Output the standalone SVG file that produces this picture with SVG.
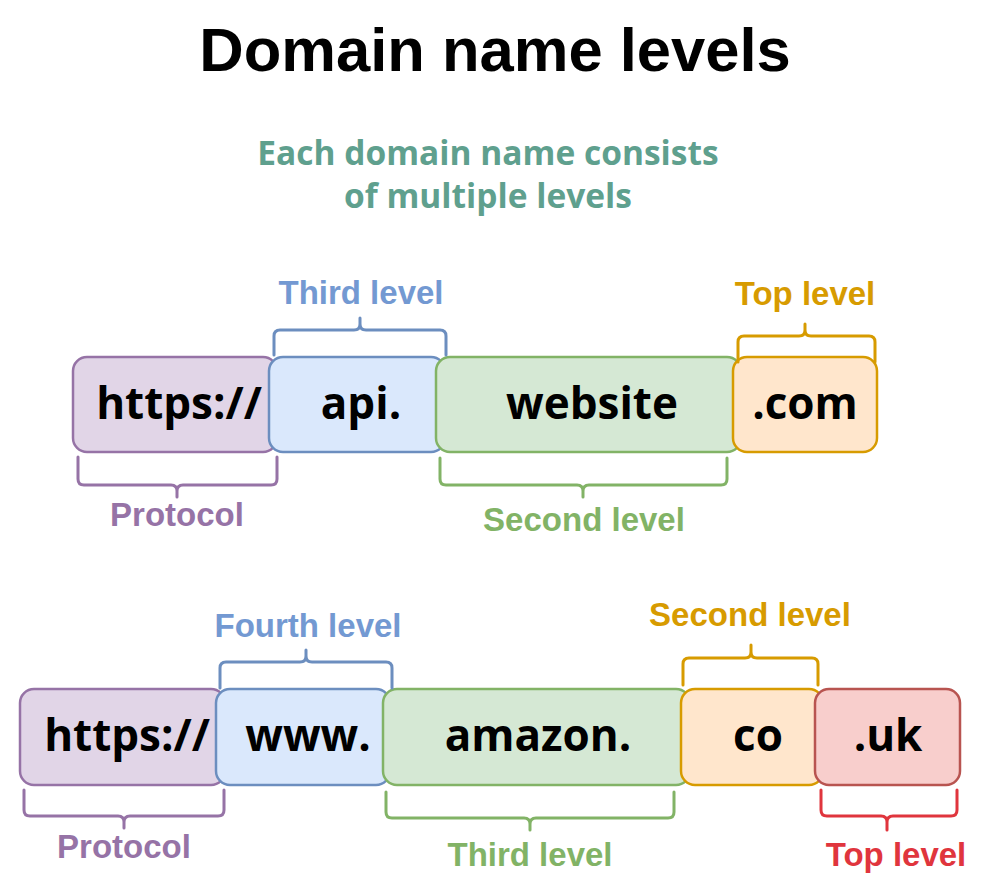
<svg xmlns="http://www.w3.org/2000/svg" width="983" height="887" viewBox="0 0 983 887">
<style>
.title{font-family:"Liberation Sans",Arial,sans-serif;font-weight:bold;font-size:61.5px;fill:#000;text-anchor:middle}
.sub{font-family:"Open Sans","Noto Sans",sans-serif;font-weight:bold;font-size:33.5px;fill:#5FA08E;text-anchor:middle}
.bt{font-family:"Open Sans","Noto Sans",sans-serif;font-weight:bold;font-size:44px;fill:#000;text-anchor:middle}
.lbl{font-family:"Liberation Sans",Arial,sans-serif;font-weight:bold;font-size:33px;text-anchor:middle}
.br{fill:none;stroke-width:3;stroke-linecap:round;stroke-linejoin:round}
.purple rect{fill:#E1D5E7;stroke:#9673A6;stroke-width:2.5}
.blue rect{fill:#DAE8FC;stroke:#6C8EBF;stroke-width:2.5}
.green rect{fill:#D5E8D4;stroke:#82B366;stroke-width:2.5}
.orange rect{fill:#FFE6CC;stroke:#D79B00;stroke-width:2.5}
.red rect{fill:#F8CECC;stroke:#B85450;stroke-width:2.5}
</style>
<text class="title" x="495" y="71">Domain name levels</text>
<text class="sub" x="488" y="165">Each domain name consists</text>
<text class="sub" x="488" y="208">of multiple levels</text>

<g id="r1-protocol" class="purple"><rect x="73" y="357" width="204" height="95" rx="14"/><text class="bt" x="179" y="419">https://</text></g>
<g id="r1-api" class="blue"><rect x="269" y="357" width="176" height="95" rx="14"/><text class="bt" x="361" y="419">api.</text></g>
<g id="r1-website" class="green"><rect x="436" y="357" width="305" height="95" rx="14"/><text class="bt" x="592" y="419">website</text></g>
<g id="r1-com" class="orange"><rect x="733" y="357" width="144" height="95" rx="14"/><text class="bt" x="805" y="419">.com</text></g>

<g id="r2-protocol" class="purple"><rect x="20" y="689" width="205" height="96" rx="14"/><text class="bt" x="127" y="751">https://</text></g>
<g id="r2-www" class="blue"><rect x="216" y="689" width="174" height="96" rx="14"/><text class="bt" x="308" y="751">www.</text></g>
<g id="r2-amazon" class="green"><rect x="383" y="689" width="307" height="96" rx="14"/><text class="bt" x="538" y="751">amazon.</text></g>
<g id="r2-co" class="orange"><rect x="681" y="689" width="142" height="96" rx="14"/><text class="bt" x="758" y="751">co</text></g>
<g id="r2-uk" class="red"><rect x="815" y="689" width="145" height="96" rx="14"/><text class="bt" x="888" y="751">.uk</text></g>

<g id="connectors">
<path class="br" stroke="#6C8EBF" d="M274,355 V336 Q274,330 280,330 H354 Q360,330 360,324 V318 M360,324 Q360,330 366,330 H440 Q446,330 446,336 V355"/>
<path class="br" stroke="#D79B00" d="M738,362 V342 Q738,336 744,336 H799 Q805,336 805,330 V324 M805,330 Q805,336 811,336 H869 Q875,336 875,342 V362"/>
<path class="br" stroke="#9673A6" d="M78,457 V479 Q78,485 84,485 H171 Q177,485 177,491 V497 M177,491 Q177,485 183,485 H271 Q277,485 277,479 V457"/>
<path class="br" stroke="#82B366" d="M440,458 V479 Q440,485 446,485 H577 Q583,485 583,491 V497 M583,491 Q583,485 589,485 H721 Q727,485 727,479 V458"/>
<path class="br" stroke="#6C8EBF" d="M220,688 V668 Q220,662 226,662 H300 Q306,662 306,656 V650 M306,656 Q306,662 312,662 H386 Q392,662 392,668 V688"/>
<path class="br" stroke="#D79B00" d="M683,685 V664 Q683,658 689,658 H745 Q751,658 751,652 V645 M751,652 Q751,658 757,658 H812 Q818,658 818,664 V685"/>
<path class="br" stroke="#9673A6" d="M24,790 V810 Q24,816 30,816 H118 Q124,816 124,822 V828 M124,822 Q124,816 130,816 H218 Q224,816 224,810 V790"/>
<path class="br" stroke="#82B366" d="M386,792 V812 Q386,818 392,818 H524 Q530,818 530,824 V830 M530,824 Q530,818 536,818 H668 Q674,818 674,812 V792"/>
<path class="br" stroke="#E0353D" d="M821,790 V810 Q821,816 827,816 H881 Q887,816 887,822 V830 M887,822 Q887,816 893,816 H951 Q957,816 957,810 V790"/>
</g>

<g id="labels">
<text class="lbl" x="361" y="304" fill="#7399D2">Third level</text>
<text class="lbl" x="805" y="305" fill="#D79B00">Top level</text>
<text class="lbl" x="177" y="526" fill="#9673A6">Protocol</text>
<text class="lbl" x="584" y="531" fill="#82B366">Second level</text>
<text class="lbl" x="308" y="637" fill="#7399D2">Fourth level</text>
<text class="lbl" x="750" y="626" fill="#D79B00">Second level</text>
<text class="lbl" x="124" y="858" fill="#9673A6">Protocol</text>
<text class="lbl" x="530" y="866" fill="#82B366">Third level</text>
<text class="lbl" x="896" y="866" fill="#E0353D">Top level</text>
</g>
</svg>
